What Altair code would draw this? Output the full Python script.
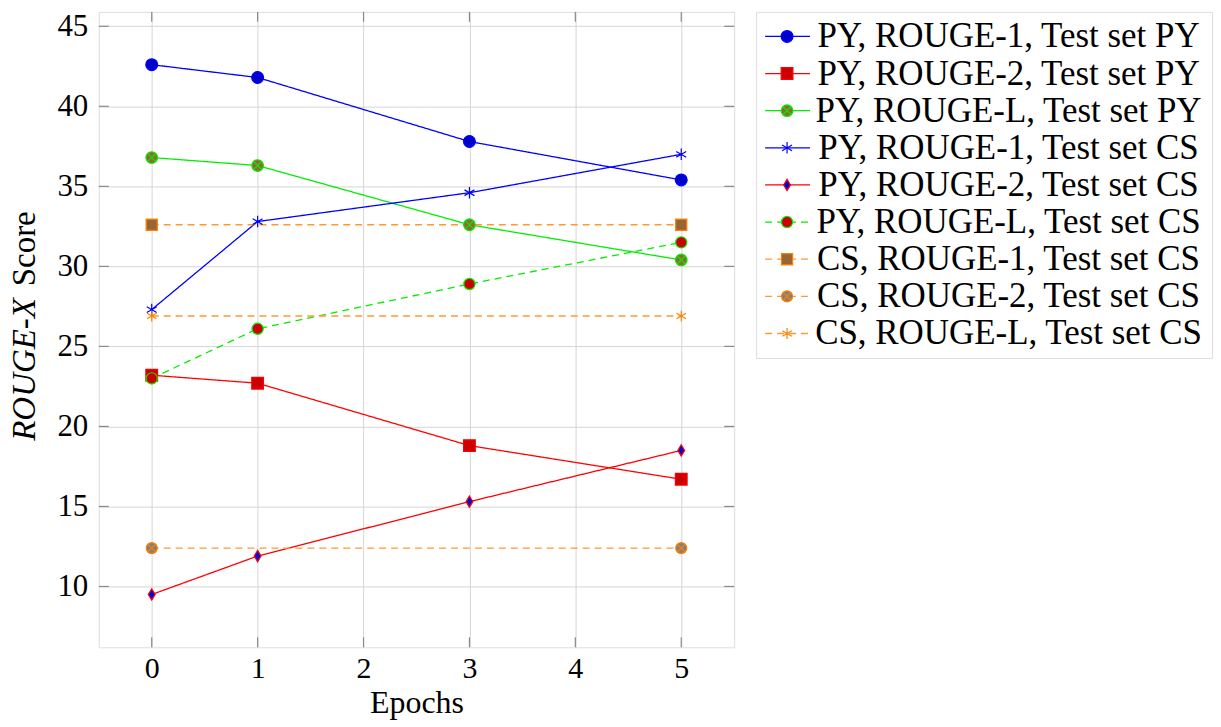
import altair as alt
import pandas as pd

# ---------------- data ----------------
epochs = [0, 1, 3, 5]
baseline_epochs = [0, 5]

py_r1_py = [42.6, 41.8, 37.8, 35.4]
py_r2_py = [23.2, 22.7, 18.8, 16.7]
py_rl_py = [36.8, 36.3, 32.6, 30.4]
py_r1_cs = [27.3, 32.8, 34.6, 37.0]
py_r2_cs = [9.5, 11.9, 15.3, 18.5]
py_rl_cs = [23.0, 26.1, 28.9, 31.5]
cs_r1_cs = [32.6, 32.6]
cs_r2_cs = [12.4, 12.4]
cs_rl_cs = [26.9, 26.9]

series_names = [
    "PY, ROUGE-1, Test set PY",
    "PY, ROUGE-2, Test set PY",
    "PY, ROUGE-L, Test set PY",
    "PY, ROUGE-1, Test set CS",
    "PY, ROUGE-2, Test set CS",
    "PY, ROUGE-L, Test set CS",
    "CS, ROUGE-1, Test set CS",
    "CS, ROUGE-2, Test set CS",
    "CS, ROUGE-L, Test set CS",
]
series_values = [py_r1_py, py_r2_py, py_rl_py, py_r1_cs, py_r2_cs, py_rl_cs,
                 cs_r1_cs, cs_r2_cs, cs_rl_cs]
series_x = [epochs] * 6 + [baseline_epochs] * 3

x_ticks = [0, 1, 2, 3, 4, 5]
y_ticks = [10, 15, 20, 25, 30, 35, 40, 45]

x_title = "Epochs"
y_title_italic = "ROUGE-X"
y_title_rest = "Score"

# ---------------- styles ----------------
FONT = "Liberation Serif"
line_colors = ["#0000ff", "#ff0000", "#00ee00", "#0000ff", "#ff0000", "#00ee00",
               "#ff9933", "#ff9933", "#ff9933"]
stroke_colors = ["#0000ff", "#ff0000", "#00ee00", "#0000ff", "#ff0000", "#00ee00",
                 "#ff8000", "#ff8000", "#ff8000"]
fill_colors = ["#0000cc", "#cc0000", "#996633", "transparent", "#0000dd", "#cc0000",
               "#996633", "#808080", "transparent"]
SOLID = [1, 0]
DASH = [7, 5]
dashes = [SOLID] * 5 + [DASH] * 4
STAR = "M0,-1L0,1M-0.866,-0.5L0.866,0.5M-0.866,0.5L0.866,-0.5"
DIAMOND = "M0,-1L0.6,0L0,1L-0.6,0Z"
XCROSS = "M-0.707,-0.707L0.707,0.707M-0.707,0.707L0.707,-0.707"
shapes = ["circle", "square", "circle", STAR, DIAMOND, "circle", "square", "circle", STAR]
sizes = [140, 120, 140, 110, 120, 140, 120, 140, 110]
cross_series = [series_names[2], series_names[7]]

rows = []
for name, xs, ys in zip(series_names, series_x, series_values):
    for xv, yv in zip(xs, ys):
        rows.append({"series": name, "epoch": xv, "score": yv})
df = pd.DataFrame(rows)

W, H = 637, 637
LEG_W, LEG_H = 457, 347
x_scale = alt.Scale(domain=[-0.5, 5.5], nice=False, zero=False)
y_scale = alt.Scale(domain=[6.2, 45.9], nice=False, zero=False)

color_s = alt.Scale(domain=series_names, range=line_colors)
stroke_s = alt.Scale(domain=series_names, range=stroke_colors)
fill_s = alt.Scale(domain=series_names, range=fill_colors)
dash_s = alt.Scale(domain=series_names, range=dashes)
shape_s = alt.Scale(domain=series_names, range=shapes)
size_s = alt.Scale(domain=series_names, range=sizes)

x_axis = alt.Axis(values=x_ticks, title=x_title, grid=True, gridColor="#d6d6d6",
                  ticks=False, domain=False, labelFont=FONT, labelFontSize=30,
                  labelColor="#000", labelPadding=6, titleFont=FONT, titleFontSize=32,
                  titleFontWeight="normal", titleColor="#000", titlePadding=4,
                  format="d")
y_axis = alt.Axis(values=y_ticks, title=None, grid=True, gridColor="#d6d6d6",
                  ticks=False, domain=False, labelFont=FONT, labelFontSize=31,
                  labelColor="#000", labelPadding=11, format="d")

base = alt.Chart(df)

lines = base.mark_line(strokeWidth=1.3).encode(
    x=alt.X("epoch:Q", scale=x_scale, axis=x_axis),
    y=alt.Y("score:Q", scale=y_scale, axis=y_axis),
    color=alt.Color("series:N", scale=color_s, legend=None),
    strokeDash=alt.StrokeDash("series:N", scale=dash_s, legend=None),
    detail="series:N",
)

points = base.mark_point(filled=True, opacity=1, strokeWidth=1.2).encode(
    x=alt.X("epoch:Q", scale=x_scale),
    y=alt.Y("score:Q", scale=y_scale),
    shape=alt.Shape("series:N", scale=shape_s, legend=None),
    fill=alt.Fill("series:N", scale=fill_s, legend=None),
    stroke=alt.Stroke("series:N", scale=stroke_s, legend=None),
    size=alt.Size("series:N", scale=size_s, legend=None),
)

crosses = base.transform_filter(
    alt.FieldOneOfPredicate(field="series", oneOf=cross_series)
).mark_point(shape=XCROSS, size=140, opacity=1, strokeWidth=1.2, filled=False).encode(
    x=alt.X("epoch:Q", scale=x_scale),
    y=alt.Y("score:Q", scale=y_scale),
    stroke=alt.Stroke("series:N", scale=stroke_s, legend=None),
)

ytick_df = pd.DataFrame({"v": y_ticks})
xtick_df = pd.DataFrame({"v": x_ticks})
TICK = "#8a8a8a"
ytick_l = alt.Chart(ytick_df).mark_rule(color=TICK, strokeWidth=1.2).encode(
    y=alt.Y("v:Q", scale=y_scale), x=alt.value(0), x2=alt.value(10))
ytick_r = alt.Chart(ytick_df).mark_rule(color=TICK, strokeWidth=1.2).encode(
    y=alt.Y("v:Q", scale=y_scale), x=alt.value(W - 10), x2=alt.value(W))
xtick_b = alt.Chart(xtick_df).mark_rule(color=TICK, strokeWidth=1.2).encode(
    x=alt.X("v:Q", scale=x_scale), y=alt.value(H - 10), y2=alt.value(H))
xtick_t = alt.Chart(xtick_df).mark_rule(color=TICK, strokeWidth=1.2).encode(
    x=alt.X("v:Q", scale=x_scale), y=alt.value(0), y2=alt.value(10))

t1 = alt.Chart(pd.DataFrame({"t": [y_title_italic]})).mark_text(
    angle=270, align="right", baseline="middle", font=FONT, fontSize=33,
    fontStyle="italic", color="#000").encode(
    text="t:N", x=alt.value(-74), y=alt.value(287))
t2 = alt.Chart(pd.DataFrame({"t": [y_title_rest]})).mark_text(
    angle=270, align="left", baseline="middle", font=FONT, fontSize=33,
    color="#000").encode(
    text="t:N", x=alt.value(-74), y=alt.value(275))

main = alt.layer(ytick_l, ytick_r, xtick_b, xtick_t, lines, points, crosses, t1, t2
                 ).properties(width=W, height=H)

# ---------------- legend panel ----------------
leg_df = pd.DataFrame({"series": series_names})
leg_y = alt.Y("series:N", scale=alt.Scale(type="point", domain=series_names,
                                          padding=0.66), axis=None)
leg_base = alt.Chart(leg_df)
leg_lines = leg_base.mark_rule(strokeWidth=1.3).encode(
    y=leg_y, x=alt.value(9), x2=alt.value(54),
    color=alt.Color("series:N", scale=color_s, legend=None),
    strokeDash=alt.StrokeDash("series:N", scale=dash_s, legend=None),
)
leg_points = leg_base.mark_point(filled=True, opacity=1, strokeWidth=1.2).encode(
    y=leg_y, x=alt.value(31),
    shape=alt.Shape("series:N", scale=shape_s, legend=None),
    fill=alt.Fill("series:N", scale=fill_s, legend=None),
    stroke=alt.Stroke("series:N", scale=stroke_s, legend=None),
    size=alt.Size("series:N", scale=size_s, legend=None),
)
leg_cross = leg_base.transform_filter(
    alt.FieldOneOfPredicate(field="series", oneOf=cross_series)
).mark_point(shape=XCROSS, size=140, opacity=1, strokeWidth=1.2, filled=False).encode(
    y=leg_y, x=alt.value(31),
    stroke=alt.Stroke("series:N", scale=stroke_s, legend=None),
)
leg_text = leg_base.mark_text(align="center", baseline="middle", font=FONT,
                              fontSize=35, color="#000").encode(
    y=leg_y, x=alt.value(253), text="series:N")

legend_panel = alt.layer(leg_lines, leg_points, leg_cross, leg_text).properties(
    width=LEG_W, height=LEG_H)

chart = alt.hconcat(main, legend_panel, spacing=19).properties(
    padding={"left": 0, "top": 0, "right": 0, "bottom": 0}
).configure_view(stroke="#333", strokeWidth=1.3).configure(background="white")

chart.save("out.html", embed_options={"renderer": "svg", "actions": False})
